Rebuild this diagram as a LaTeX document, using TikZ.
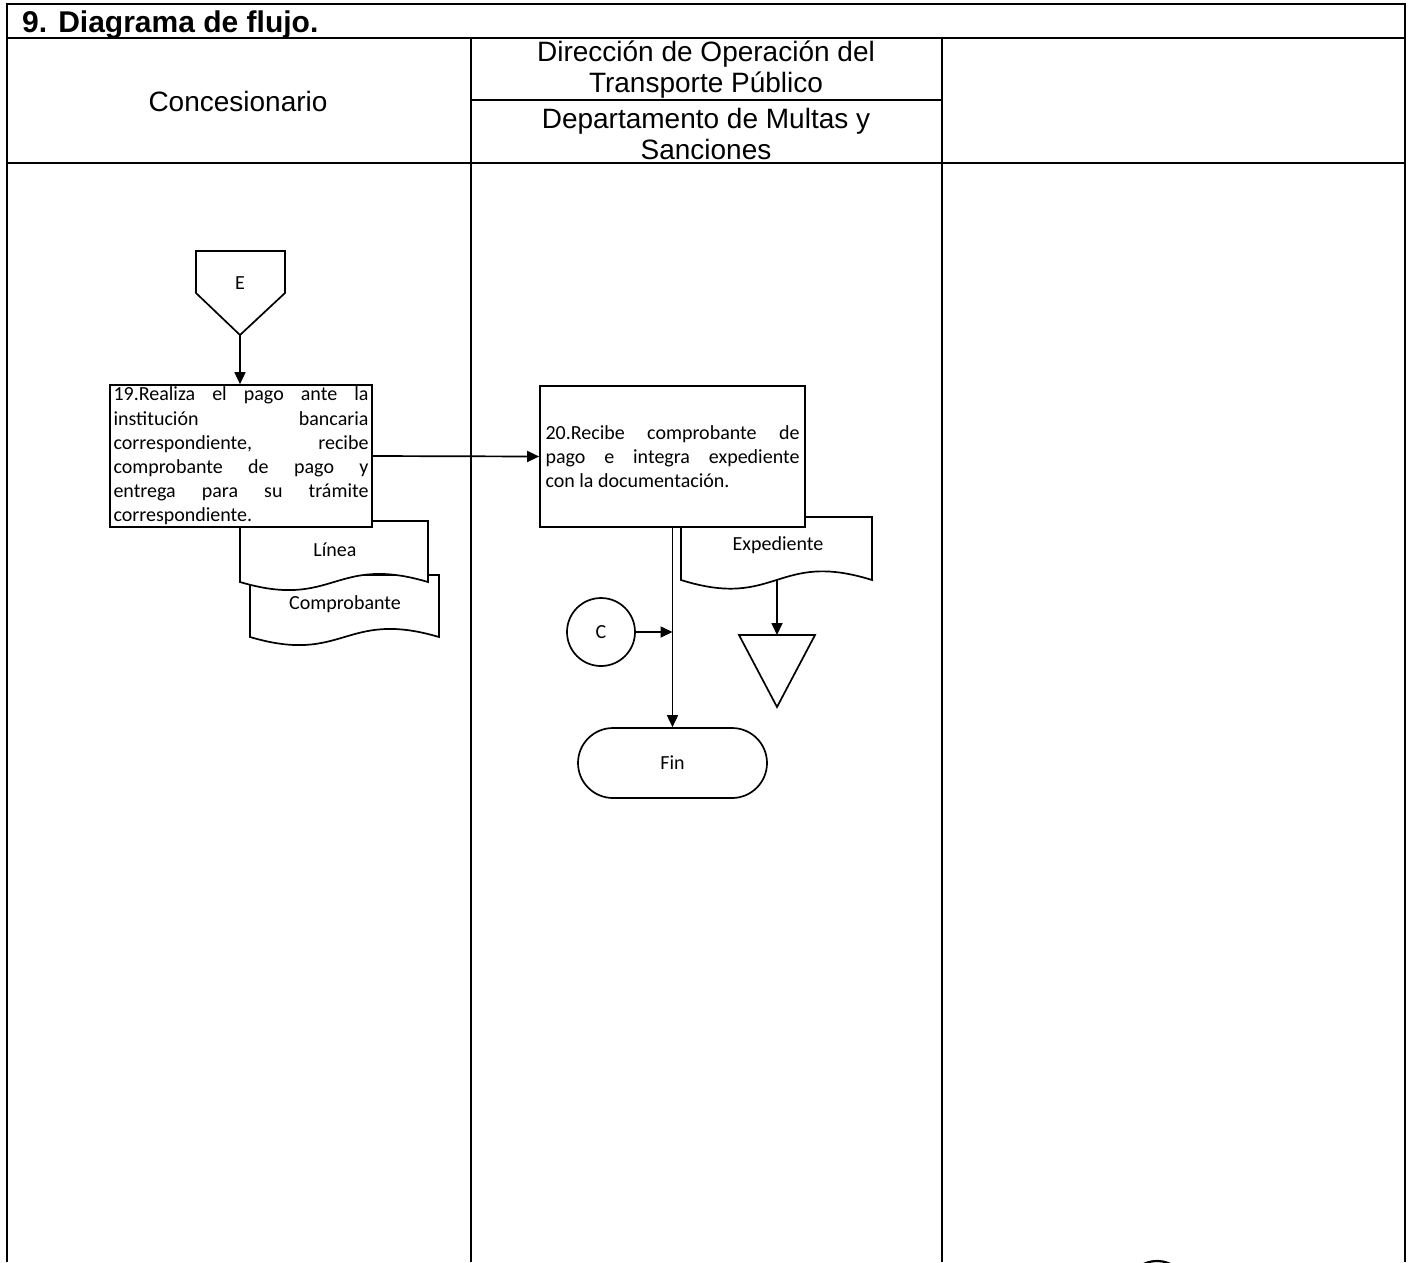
\documentclass[tikz,border=0pt]{standalone}
\usepackage{fontspec}
\setmainfont{Carlito}
\newfontfamily\arialf{Liberation Sans}
\usetikzlibrary{arrows.meta,shapes.geometric}
\tikzset{
  tbl/.style={line width=2.2pt},
  shp/.style={draw, line width=1.7pt, fill=white},
  arr/.style={line width=1.7pt, -{Triangle[length=12pt,width=11pt]}},
  hdr/.style={font=\arialf\fontsize{28}{31}\selectfont, align=center, inner sep=0pt},
  lbl/.style={font=\fontsize{20}{24}\selectfont, inner sep=0pt},
  procbox/.style={shp, rectangle, inner sep=0pt, font=\fontsize{20}{24.2}\selectfont}
}
\newcommand{\docshape}[5]{%
  \draw[shp] (#1,#2) -- (#3,#2) -- (#3,#4)
    .. controls ({(#1+#3)/2},{#4-#5}) and ({(#1+#3)/2},{#4+#5}) .. (#1,#4) -- cycle;}
\begin{document}
\begin{tikzpicture}[x=1pt,y=-1pt]
\useasboundingbox (0,0) rectangle (1413,1262);
\fill[white] (0,0) rectangle (1413,1262);
% table frame
\draw[tbl] (7,1262) -- (7,4) -- (1405,4) -- (1405,1262);
\draw[tbl] (7,38) -- (1405,38);
\draw[tbl] (7,163) -- (1405,163);
\draw[tbl] (471,38) -- (471,1262);
\draw[tbl] (942,38) -- (942,1262);
\draw[tbl] (471,100) -- (942,100);
% header texts
\node[anchor=base west, inner sep=0pt, font=\arialf\bfseries\fontsize{30}{33}\selectfont] (title) at (22,32) {9. Diagrama de flujo.};
\node[hdr] (hconc) at (238,101) {Concesionario};
\node[hdr] (hdir) at (706,70) {Dirección de Operación del\\Transporte Público};
\node[hdr] (hdep) at (706,134) {Departamento de Multas y\\Sanciones};
% off-page connector E
\draw[shp] (196,251) -- (285,251) -- (285,293) -- (240,335) -- (196,293) -- cycle;
\node[lbl] (E) at (240,283) {E};
\coordinate (Ebot) at (240,335);
% documents behind box 19
\docshape{250}{575}{439}{637}{28}
\node[lbl] (comp) at (345,604) {Comprobante};
\docshape{240}{521}{428}{582}{28}
\node[lbl] (linea) at (335,550) {Línea};
% box 19
\node[procbox, minimum width=262pt, minimum height=142pt] (b19) at (241,456)
  {\parbox{255pt}{%
  19.Realiza\hfill el\hfill pago\hfill ante\hfill la\\
  institución\hfill bancaria\\
  correspondiente,\hfill recibe\\
  comprobante\hfill de\hfill pago\hfill y\\
  entrega\hfill para\hfill su\hfill trámite\\
  correspondiente.}};
% document behind box 20
\docshape{681}{517}{872}{580}{30}
\node[lbl] (exp) at (778,545) {Expediente};
\coordinate (expB) at (777,580);
% box 20
\node[procbox, minimum width=265pt, minimum height=141pt] (b20) at (672.5,456.5)
  {\parbox{254pt}{%
  20.Recibe\hfill comprobante\hfill de\\
  pago\hfill e\hfill integra\hfill expediente\\
  con la documentación.}};
% connector C
\node[shp, circle, minimum size=68pt, inner sep=0pt, font=\fontsize{20}{24}\selectfont] (C) at (601,632) {C};
% triangle (archive)
\draw[shp] (739,635) -- (815,635) -- (777,707) -- cycle;
\coordinate (triTop) at (777,635);
% Fin
\node[shp, rectangle, rounded corners=35pt, minimum width=189pt, minimum height=70pt, font=\fontsize{20}{24}\selectfont] (fin) at (672.5,763) {Fin};
% connectors
\draw[arr] (Ebot) -- (Ebot |- b19.north);
\draw[arr] (b19.east) -- (b20.west);
\draw[arr] (b20.south) -- (fin.north);
\draw[arr] (C.east) -- (C.east -| b20.south);
\draw[arr] (expB) -- (triTop);
% partial circle at bottom edge
\begin{scope}
\clip (0,0) rectangle (1413,1262);
\draw[line width=2.2pt] (1157,1292) circle (31);
\end{scope}
\end{tikzpicture}
\end{document}
